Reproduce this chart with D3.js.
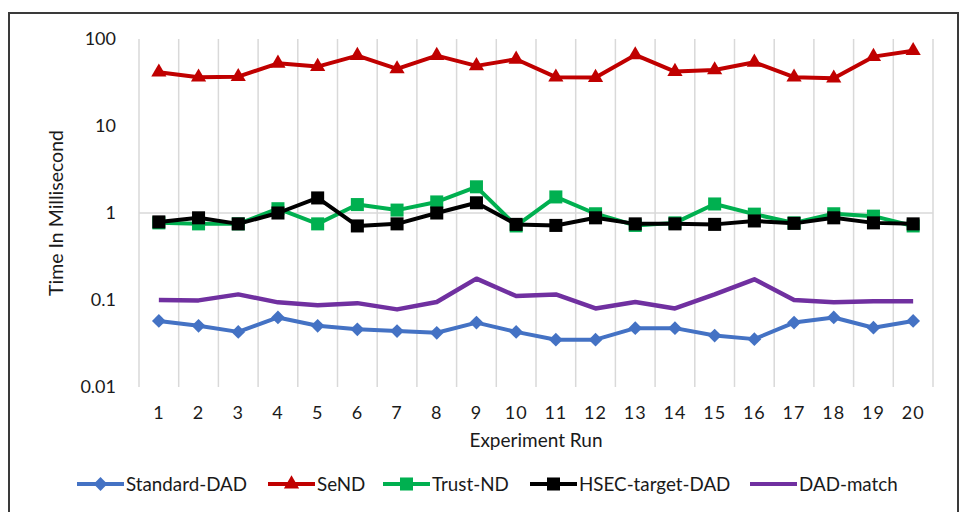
<!DOCTYPE html>
<html>
<head>
<meta charset="utf-8">
<script src="https://cdn.jsdelivr.net/npm/d3@7"></script>
<style>
  body { margin:0; background:#fff; }
  svg { font-family: Lato, "Open Sans", sans-serif; }
</style>
</head>
<body>
<div class="svg-container"></div>
<script>
//data
const runs = d3.range(1, 21);
const standardDAD = [0.0575,0.0505,0.043,0.063,0.0505,0.046,0.044,0.042,0.055,0.043,0.035,0.035,0.0475,0.0475,0.039,0.0355,0.055,0.063,0.048,0.0575];
const seND = [41.5,36.4,36.9,52.6,48.2,64.4,45.3,64.4,49.1,58.5,36.4,36,65.6,42.2,44.1,54,36.4,35.4,62.7,73.4];
const trustND = [0.77,0.75,0.75,1.12,0.75,1.25,1.08,1.34,2.0,0.71,1.53,0.98,0.72,0.77,1.27,0.97,0.77,0.98,0.92,0.71];
const hsecTargetDAD = [0.79,0.88,0.75,1.0,1.49,0.71,0.75,1.0,1.31,0.74,0.72,0.88,0.75,0.75,0.74,0.81,0.76,0.88,0.77,0.75];
const dadMatch = [0.1,0.099,0.116,0.094,0.087,0.092,0.078,0.095,0.176,0.111,0.116,0.08,0.095,0.08,0.116,0.173,0.1,0.094,0.097,0.097];
const yTicks = [0.01, 0.1, 1, 10, 100];

const series = [
  { name: 'Standard-DAD', values: standardDAD, color: '#4472C4', marker: 'diamond' },
  { name: 'SeND', values: seND, color: '#C00000', marker: 'triangle' },
  { name: 'Trust-ND', values: trustND, color: '#00B050', marker: 'square' },
  { name: 'HSEC-target-DAD', values: hsecTargetDAD, color: '#000000', marker: 'square' },
  { name: 'DAD-match', values: dadMatch, color: '#7030A0', marker: null }
];

const width = 960, height = 512;
const plot = { left: 139, right: 933, top: 39, bottom: 387 };

const svg = d3.select('.svg-container')
  .append('svg')
  .attr('width', width)
  .attr('height', height);

//outer frame
svg.append('rect')
  .attr('x', 9).attr('y', 13)
  .attr('width', 949).attr('height', 520)
  .attr('fill', '#fff')
  .attr('stroke', '#3a3a3a')
  .attr('stroke-width', 2);

const x = d3.scaleBand()
  .domain(runs)
  .range([plot.left, plot.right])
  .padding(0);

const y = d3.scaleLog()
  .domain([0.01, 100])
  .range([plot.bottom, plot.top]);

//vertical gridlines on category boundaries
const bounds = runs.map(d => x(d)).concat([plot.right]);
svg.selectAll('.vgrid')
  .data(bounds)
  .join('line')
  .attr('class', 'vgrid')
  .attr('x1', d => d).attr('x2', d => d)
  .attr('y1', plot.top).attr('y2', plot.bottom)
  .attr('stroke', '#D9D9D9')
  .attr('stroke-width', 1.5);

//horizontal gridline at 1
svg.append('line')
  .attr('x1', plot.left).attr('x2', plot.right)
  .attr('y1', y(1)).attr('y2', y(1))
  .attr('stroke', '#D9D9D9')
  .attr('stroke-width', 1.5);

//y axis
svg.append('g')
  .attr('class', 'y-axis')
  .attr('transform', `translate(${plot.left - 20}, 0)`)
  .call(d3.axisLeft(y).tickValues(yTicks).tickFormat(d => String(d)).tickSize(0))
  .call(g => g.select('.domain').remove())
  .call(g => g.selectAll('text')
    .attr('fill', '#1a1a1a')
    .attr('font-size', 18)
    .attr('font-family', 'Lato, sans-serif'));

//x axis
svg.append('g')
  .attr('class', 'x-axis')
  .attr('transform', `translate(0, ${plot.bottom + 16})`)
  .call(d3.axisBottom(x).tickSize(0))
  .call(g => g.select('.domain').remove())
  .call(g => g.selectAll('text')
    .attr('fill', '#1a1a1a')
    .attr('font-size', 18)
    .attr('letter-spacing', 1)
    .attr('font-family', 'Lato, sans-serif'));

//axis titles
svg.append('text')
  .attr('x', 536).attr('y', 447)
  .attr('text-anchor', 'middle')
  .attr('font-size', 19)
  .attr('fill', '#1a1a1a')
  .text('Experiment Run');

svg.append('text')
  .attr('transform', `translate(63, 213) rotate(-90)`)
  .attr('text-anchor', 'middle')
  .attr('font-size', 19.5)
  .attr('fill', '#1a1a1a')
  .text('Time In Millisecond');

//marker shapes
const markerPath = {
  diamond: d3.symbol().type(d3.symbolSquare).size(95)(),
  triangle: d3.symbol().type(d3.symbolTriangle).size(100)(),
  square: d3.symbol().type(d3.symbolSquare).size(170)()
};
const markerRotate = { diamond: 45, triangle: 0, square: 0 };

const line = d3.line()
  .x((d, i) => x(runs[i]) + x.bandwidth() / 2)
  .y(d => y(d));

series.forEach(s => {
  svg.append('path')
    .datum(s.values)
    .attr('fill', 'none')
    .attr('stroke', s.color)
    .attr('stroke-width', s.marker ? 4 : 4.5)
    .attr('stroke-linejoin', 'round')
    .attr('d', line);

  if (s.marker) {
    svg.selectAll(null)
      .data(s.values)
      .join('path')
      .attr('d', markerPath[s.marker])
      .attr('fill', s.color)
      .attr('transform', (d, i) => `translate(${x(runs[i]) + x.bandwidth() / 2}, ${y(d)}) rotate(${markerRotate[s.marker]})`);
  }
});

//legend
const legendX = [77, 268, 383, 530, 750];
const legend = svg.selectAll('.legend')
  .data(series)
  .join('g')
  .attr('class', 'legend')
  .attr('transform', (d, i) => `translate(${legendX[i]}, 484)`);

legend.append('line')
  .attr('x1', 0).attr('x2', 47)
  .attr('stroke', d => d.color)
  .attr('stroke-width', 4);

legend.filter(d => d.marker)
  .append('path')
  .attr('d', d => markerPath[d.marker])
  .attr('fill', d => d.color)
  .attr('transform', d => `translate(23.5, 0) rotate(${markerRotate[d.marker]})`);

legend.append('text')
  .attr('x', 49)
  .attr('dy', '0.35em')
  .attr('font-size', 18.8)
  .attr('fill', '#1a1a1a')
  .text(d => d.name);
</script>
</body>
</html>
